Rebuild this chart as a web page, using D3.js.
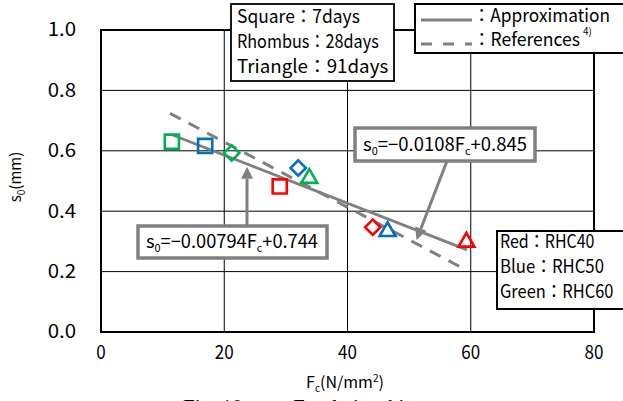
<!DOCTYPE html>
<html>
<head>
<meta charset="utf-8">
<script src="https://cdn.jsdelivr.net/npm/d3@7"></script>
<style>
  html, body { margin: 0; padding: 0; background: #fff; }
  svg { display: block; }
</style>
</head>
<body>
<div id="chart"></div>
<script>
const GOTHIC = "'Noto Sans CJK JP', 'Noto Sans', sans-serif";
const SERIF = "'Liberation Serif', serif";
const COLOR_LINE = "#808080";
const UNIT = 9.45; // width of a half-width cell
const FONT_SIZE = 18.5;

// data
const fcValues = [11.5, 16.9, 21.2, 29.0, 32.0, 33.8, 44.1, 46.5, 59.3];
const s0Values = [0.63, 0.616, 0.593, 0.482, 0.543, 0.509, 0.347, 0.333, 0.298];
const mixes = ["RHC60", "RHC50", "RHC60", "RHC40", "RHC50", "RHC60", "RHC40", "RHC50", "RHC40"];
const ages = [7, 7, 28, 7, 28, 91, 28, 91, 91];

const approxFc = [11.5, 59.4];
const approxS0 = [0.653, 0.272];
const refFc = [11.2, 59.1];
const refS0 = [0.724, 0.207];

const xTicks = [0, 20, 40, 60, 80];
const yTicks = [0, 0.2, 0.4, 0.6, 0.8, 1.0];

const mixColor = { RHC40: "#FF0000", RHC50: "#0070C0", RHC60: "#00B050" };

const width = 623, height = 401;
const svg = d3.select("#chart").append("svg")
    .attr("width", width)
    .attr("height", height);

const x = d3.scaleLinear().domain([0, 80]).range([101, 594]);
const y = d3.scaleLinear().domain([0, 1]).range([332, 30]);

// count half-width cells (full-width chars take two)
function cells(str) {
    let n = 0;
    for (const ch of str) n += ch.charCodeAt(0) > 255 ? 2 : 1;
    return n;
}
function gothicText(g, str, px, py, anchor) {
    return g.append("text")
        .attr("x", px).attr("y", py)
        .attr("dy", "0.35em")
        .attr("text-anchor", anchor || "start")
        .attr("font-family", GOTHIC)
        .attr("font-size", FONT_SIZE)
        .attr("textLength", cells(str) * UNIT)
        .attr("lengthAdjust", "spacingAndGlyphs")
        .attr("fill", "#000")
        .text(str);
}

// grid
const grid = svg.append("g").attr("class", "grid");
grid.selectAll("line.v").data(xTicks.slice(1, -1)).enter().append("line")
    .attr("x1", d => x(d)).attr("x2", d => x(d))
    .attr("y1", y(0)).attr("y2", y(1))
    .attr("stroke", "#000").attr("stroke-width", 1);
grid.selectAll("line.h").data(yTicks.slice(1, -1)).enter().append("line")
    .attr("x1", x(0)).attr("x2", x(80))
    .attr("y1", d => y(d)).attr("y2", d => y(d))
    .attr("stroke", "#000").attr("stroke-width", 1);

// frame
svg.append("rect")
    .attr("x", x(0)).attr("y", y(1))
    .attr("width", x(80) - x(0)).attr("height", y(0) - y(1))
    .attr("fill", "none").attr("stroke", "#000").attr("stroke-width", 2);

// tick labels
const ticks = svg.append("g").attr("class", "ticks");
yTicks.forEach(d => gothicText(ticks, d3.format(".1f")(d), 76, y(d), "end"));
xTicks.forEach(d => gothicText(ticks, String(d), x(d), 353, "middle"));

// axis titles
const yTitle = svg.append("text")
    .attr("transform", "translate(21,177) rotate(-90)")
    .attr("text-anchor", "middle")
    .attr("font-family", GOTHIC)
    .attr("font-size", 15);
yTitle.append("tspan").text("s");
yTitle.append("tspan").attr("font-size", 10).attr("dy", 4).text("0");
yTitle.append("tspan").attr("dy", -4).text("(mm)");

const xTitle = svg.append("text")
    .attr("x", 345).attr("y", 388)
    .attr("text-anchor", "middle")
    .attr("font-family", GOTHIC)
    .attr("font-size", 16);
xTitle.append("tspan").text("F");
xTitle.append("tspan").attr("font-size", 10).attr("dy", 4).text("c");
xTitle.append("tspan").attr("dy", -4).text("(N/mm");
xTitle.append("tspan").attr("font-size", 10).attr("dy", -6).text("2");
xTitle.append("tspan").attr("dy", 6).text(")");

// caption (cut off by the bottom edge)
const cap = svg.append("text")
    .attr("x", 183).attr("y", 414)
    .attr("font-family", SERIF)
    .attr("font-size", 21);
cap.append("tspan").text("Fig. 10");
cap.append("tspan").attr("x", 293).text("F");
cap.append("tspan").attr("font-size", 13).attr("dy", 4).text("c");
cap.append("tspan").attr("dy", -4).text(" relationship");

// lines
const line = d3.line().x(d => x(d[0])).y(d => y(d[1]));
svg.append("path")
    .datum(refFc.map((d, i) => [d, refS0[i]]))
    .attr("d", line)
    .attr("fill", "none")
    .attr("stroke", COLOR_LINE)
    .attr("stroke-width", 3)
    .attr("stroke-dasharray", "12,9");
svg.append("path")
    .datum(approxFc.map((d, i) => [d, approxS0[i]]))
    .attr("d", line)
    .attr("fill", "none")
    .attr("stroke", COLOR_LINE)
    .attr("stroke-width", 2.75);

// markers
const points = fcValues.map((d, i) => ({ fc: d, s0: s0Values[i], mix: mixes[i], age: ages[i] }));
const symbolFor = { 7: d3.symbol(d3.symbolSquare, 200), 28: d3.symbol(d3.symbolSquare, 118), 91: d3.symbol(d3.symbolTriangle, 110) };
svg.append("g").attr("class", "points")
    .selectAll("path").data(points).enter().append("path")
    .attr("d", d => symbolFor[d.age]())
    .attr("transform", d => "translate(" + x(d.fc) + "," + y(d.s0) + ")" + (d.age === 28 ? " rotate(45)" : ""))
    .attr("fill", "none")
    .attr("stroke", d => mixColor[d.mix])
    .attr("stroke-width", 2.6);

// arrows
function arrow(x1, y1, x2, y2) {
    const a = Math.atan2(y2 - y1, x2 - x1);
    const len = 12, half = 6;
    const bx = x2 - len * Math.cos(a), by = y2 - len * Math.sin(a);
    svg.append("line")
        .attr("x1", x1).attr("y1", y1).attr("x2", bx).attr("y2", by)
        .attr("stroke", COLOR_LINE).attr("stroke-width", 3);
    svg.append("path")
        .attr("d", "M" + x2 + "," + y2 +
            "L" + (bx + half * Math.sin(a)) + "," + (by - half * Math.cos(a)) +
            "L" + (bx - half * Math.sin(a)) + "," + (by + half * Math.cos(a)) + "Z")
        .attr("fill", COLOR_LINE);
}
arrow(447, 161, x(51.2), y(0.305));
arrow(247, 226, x(23.7), y(0.547));

// equation boxes
function eqBox(bx, by, bw, bh, coef, icpt, tw) {
    const g = svg.append("g");
    g.append("rect")
        .attr("x", bx).attr("y", by).attr("width", bw).attr("height", bh)
        .attr("fill", "#fff").attr("stroke", COLOR_LINE).attr("stroke-width", 3.5);
    const t = g.append("text")
        .attr("x", bx + 8).attr("y", by + bh / 2 + 6)
        .attr("font-family", GOTHIC)
        .attr("font-size", FONT_SIZE)
        .attr("textLength", tw)
        .attr("lengthAdjust", "spacingAndGlyphs");
    t.append("tspan").text("s");
    t.append("tspan").attr("font-size", 11).attr("dy", 4).text("0");
    t.append("tspan").attr("dy", -4).text("=−" + coef + "F");
    t.append("tspan").attr("font-size", 11).attr("dy", 4).text("c");
    t.append("tspan").attr("dy", -4).text("+" + icpt);
}
eqBox(355, 128, 180, 33, "0.0108", "0.845", 164);
eqBox(138, 226, 189, 32, "0.00794", "0.744", 172);

// age legend box
const ageBox = svg.append("g");
ageBox.append("rect")
    .attr("x", 231).attr("y", 4).attr("width", 163).attr("height", 77)
    .attr("fill", "#fff").attr("stroke", "#000").attr("stroke-width", 1.8);
["Square：7days", "Rhombus：28days", "Triangle：91days"].forEach((s, i) =>
    gothicText(ageBox, s, 237, 17 + i * 25));

// line legend box
const lineBox = svg.append("g");
lineBox.append("rect")
    .attr("x", 415).attr("y", 4).attr("width", 215).attr("height", 49)
    .attr("fill", "#fff").attr("stroke", "#000").attr("stroke-width", 2);
lineBox.append("line")
    .attr("x1", 421).attr("x2", 472).attr("y1", 20).attr("y2", 20)
    .attr("stroke", COLOR_LINE).attr("stroke-width", 3);
lineBox.append("line")
    .attr("x1", 421).attr("x2", 472).attr("y1", 44).attr("y2", 44)
    .attr("stroke", COLOR_LINE).attr("stroke-width", 3)
    .attr("stroke-dasharray", "11,11");
lineBox.append("text")
    .attr("x", 473).attr("y", 16).attr("dy", "0.35em")
    .attr("font-family", GOTHIC).attr("font-size", FONT_SIZE)
    .attr("textLength", 137).attr("lengthAdjust", "spacingAndGlyphs")
    .text("：Approximation");
lineBox.append("text")
    .attr("x", 473).attr("y", 40).attr("dy", "0.35em")
    .attr("font-family", GOTHIC).attr("font-size", FONT_SIZE)
    .attr("textLength", 107).attr("lengthAdjust", "spacingAndGlyphs")
    .text("：References");
lineBox.append("text")
    .attr("x", 583).attr("y", 35)
    .attr("font-family", GOTHIC).attr("font-size", 10)
    .text("4)");

// mix legend box
const mixBox = svg.append("g");
mixBox.append("rect")
    .attr("x", 497).attr("y", 231).attr("width", 135).attr("height", 78)
    .attr("fill", "#fff").attr("stroke", "#000").attr("stroke-width", 2);
["Red：RHC40", "Blue：RHC50", "Green：RHC60"].forEach((s, i) =>
    gothicText(mixBox, s, 500, 242 + i * 25));
</script>
</body>
</html>
